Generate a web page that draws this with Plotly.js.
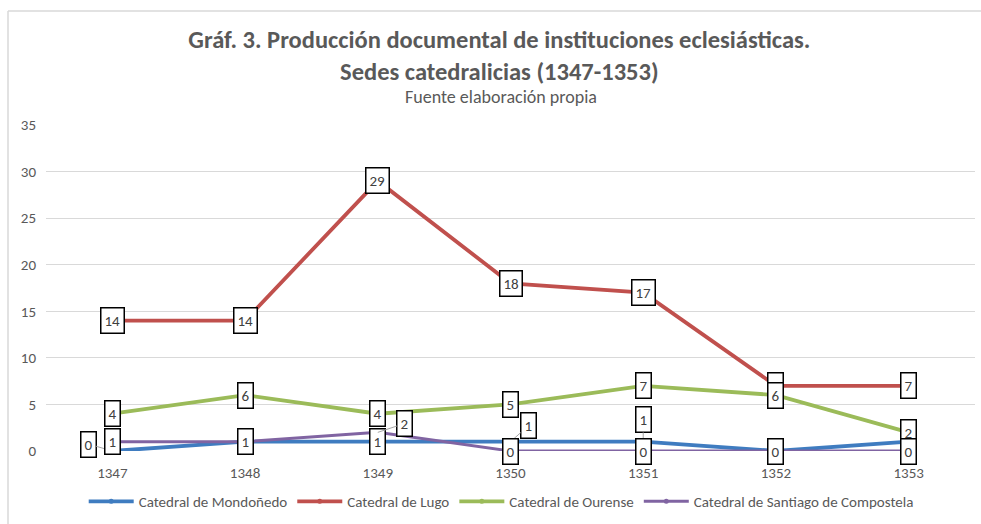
<!DOCTYPE html>
<html><head><meta charset="utf-8">
<script src="https://cdn.plot.ly/plotly-3.0.1.min.js"></script>
<style>html,body{margin:0;padding:0;background:#fff;}#chart{width:981px;height:524px;}</style>
</head><body><div id="chart"></div>
<script>
var years = ['1347','1348','1349','1350','1351','1352','1353'];
var seriesNames = ['Catedral de Mondoñedo','Catedral de Lugo','Catedral de Ourense','Catedral de Santiago de Compostela'];
var mondonedo = [0,1,1,1,1,0,1];
var lugo = [14,14,29,18,17,7,7];
var ourense = [4,6,4,5,7,6,2];
var santiago = [1,1,2,0,0,0,0];
var yTicks = [0,5,10,15,20,25,30,35];

var allSeries = [mondonedo, lugo, ourense, santiago];
var colors = ['#3F7CC0','#C0504D','#9BBB59','#8064A2'];
// label offsets in px [dx, dy] per series/point
var labelOffsets = [
  [[-24,-7],[0,0],[0,0],[18,-16],[0,-22],[0,0],[0,0]],
  [[0,0],[0,0],[0,0],[0,0],[0,0],[0,0],[0,0]],
  [[0,0],[0,0],[0,0],[0,0],[0,0],[0,0],[0,0]],
  [[0,0],[0,0],[27,-9],[0,0],[0,0],[0,0],[0,0]]
];
var FONT = 'Carlito, Calibri, "Open Sans", sans-serif';

var traces = allSeries.map(function(vals, i){
  return {x: years, y: vals, type:'scatter', mode:'lines+markers', name: seriesNames[i],
    line:{color:colors[i], width: i===3?3:3.8}, marker:{size:5, color:colors[i]}, cliponaxis:false};
});

var annotations = [];
allSeries.forEach(function(vals, i){
  vals.forEach(function(v, j){
    var off = labelOffsets[i][j];
    var moved = off[0]!==0 || off[1]!==0;
    // category axis: position by category index (numeric-looking names would be read as indices)
    var a = {x: years.indexOf(years[j]), y: v, xref:'x', yref:'y', text: String(v),
      bgcolor:'#FFFFFF', bordercolor:'#000000', borderwidth:1.5, borderpad:3,
      font:{family:FONT, size:15, color:'#404040'}};
    if (moved) {
      a.showarrow = true; a.ax = off[0]; a.ay = off[1]; a.arrowhead = 0; a.arrowwidth = 1;
      a.arrowcolor = '#A6A6A6'; a.standoff = 0;
    } else {
      a.showarrow = false; a.xanchor = 'center'; a.yanchor = 'middle';
    }
    annotations.push(a);
  });
});
annotations.push({xref:'paper', yref:'paper', x:0.49, y:1.085, text:'Fuente elaboración propia',
  showarrow:false, font:{family:FONT, size:18, color:'#595959'}, xanchor:'center', yanchor:'middle'});

var layout = {
  width:981, height:524,
  margin:{l:46, r:6, t:125, b:70},
  paper_bgcolor:'#FFFFFF', plot_bgcolor:'#FFFFFF',
  font:{family:FONT, color:'#595959'},
  title:{text:'<b>Gráf. 3. Producción documental de instituciones eclesiásticas.<br>Sedes catedralicias (1347-1353)</b>',
    x:0.509, xanchor:'center', y:1-48/524, yanchor:'middle', font:{family:FONT, size:24.5, color:'#595959'}},
  xaxis:{type:'category', range:[-0.5,6.5], showgrid:false, zeroline:false, showline:false, ticks:'',
    ticklabelstandoff:11, tickfont:{size:15, color:'#595959'}, fixedrange:true},
  yaxis:{range:[0,35], tickvals:yTicks, showgrid:true, gridcolor:'#D9D9D9', gridwidth:1, zeroline:false,
    showline:false, ticks:'', ticklabelstandoff:9, tickfont:{size:15, color:'#595959'}, fixedrange:true},
  legend:{orientation:'h', x:0.49, xanchor:'center', y:-0.155, yanchor:'middle',
    font:{size:15, color:'#595959'}, itemwidth:45},
  showlegend:true,
  annotations: annotations,
  shapes:[
    {type:'line', xref:'paper', yref:'paper', x0:-0.0409, x1:1.2, y0:1.3495, y1:1.3495, line:{color:'#D9D9D9', width:1.5}},
    {type:'line', xref:'paper', yref:'paper', x0:-0.0409, x1:-0.0409, y0:-0.3, y1:1.3495, line:{color:'#D9D9D9', width:1.5}}
  ]
};
Plotly.newPlot('chart', traces, layout, {displayModeBar:false, staticPlot:true});
</script></body></html>
